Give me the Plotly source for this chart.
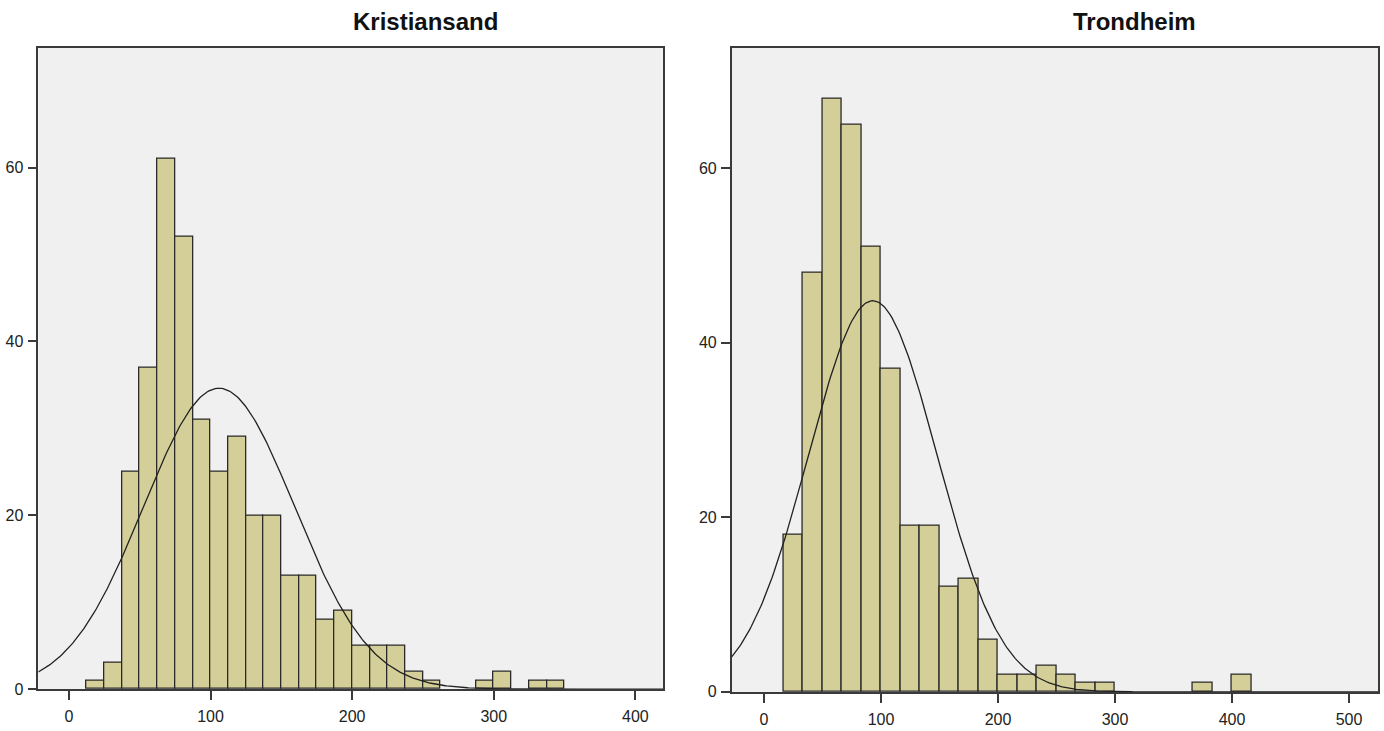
import numpy as np
import plotly.graph_objects as go

# ---- Data ----
titles = ["Kristiansand", "Trondheim"]

# Kristiansand histogram (bin width 12.5, first bin starts at 12.5)
k_bin_start = 12.5
k_bin_width = 12.5
k_counts = [1, 3, 25, 37, 61, 52, 31, 25, 29, 20, 20, 13, 13, 8, 9, 5, 5, 5, 2, 1,
            0, 0, 1, 2, 0, 1, 1]
k_mean = 106.0
k_sd = 53.3

# Trondheim histogram (bin width 16.67, first bin starts at 16.67)
t_bin_start = 50.0 / 3
t_bin_width = 50.0 / 3
t_counts = [18, 48, 68, 65, 51, 37, 19, 19, 12, 13, 6, 2, 2, 3, 2, 1, 1,
            0, 0, 0, 0, 1, 0, 2]
t_mean = 93.0
t_sd = 54.9

k_xticks = [0, 100, 200, 300, 400]
t_xticks = [0, 100, 200, 300, 400, 500]
yticks = [0, 20, 40, 60]

k_xrange = [-21.6, 419.5]
t_xrange = [-27.6, 524.8]
yrange = [0, 73.8]

# ---- Styling ----
BAR_FILL = "#D4CF98"
BAR_LINE = "#2a2a2a"
PLOT_BG = "#F0F0F0"
FRAME = "#3a3a3a"
FONT = "Liberation Sans, Arial, sans-serif"

fig = go.Figure()


def add_panel(counts, start, width, mean, sd, xrange, xaxis, yaxis):
    counts = np.array(counts, dtype=float)
    centers = start + width * (np.arange(len(counts)) + 0.5)
    mask = counts > 0
    fig.add_trace(go.Bar(
        x=centers[mask], y=counts[mask], width=width,
        marker=dict(color=BAR_FILL, line=dict(color=BAR_LINE, width=1.3)),
        xaxis=xaxis, yaxis=yaxis, showlegend=False, hoverinfo="x+y",
    ))
    n = counts.sum()
    xs = np.linspace(xrange[0], xrange[1], 400)
    ys = n * width / (sd * np.sqrt(2 * np.pi)) * np.exp(-0.5 * ((xs - mean) / sd) ** 2)
    fig.add_trace(go.Scatter(
        x=xs, y=ys, mode="lines", line=dict(color="#222222", width=1.3),
        xaxis=xaxis, yaxis=yaxis, showlegend=False, hoverinfo="skip",
    ))


add_panel(k_counts, k_bin_start, k_bin_width, k_mean, k_sd, k_xrange, "x", "y")
add_panel(t_counts, t_bin_start, t_bin_width, t_mean, t_sd, t_xrange, "x2", "y2")

W, H = 1384, 731

axis_common = dict(
    showgrid=False, zeroline=False, showline=True, mirror=True,
    linecolor=FRAME, linewidth=1.6, ticks="outside", ticklen=9,
    tickwidth=1.6, tickcolor=FRAME,
    tickfont=dict(family=FONT, size=16, color="#222222"),
)

fig.update_layout(
    width=W, height=H,
    margin=dict(l=0, r=0, t=0, b=0),
    paper_bgcolor="white", plot_bgcolor=PLOT_BG,
    bargap=0,
    xaxis=dict(domain=[38.3 / W, 663 / W], range=k_xrange, tickvals=k_xticks,
               anchor="y", ticklabelstandoff=3, **axis_common),
    yaxis=dict(domain=[1 - 697.7 / H, 1 - 48.3 / H], range=yrange, tickvals=yticks,
               anchor="x", ticklabelstandoff=1, **axis_common),
    xaxis2=dict(domain=[731.7 / W, 1378 / W], range=t_xrange, tickvals=t_xticks,
                anchor="y2", ticklabelstandoff=3, **axis_common),
    yaxis2=dict(domain=[1 - 700.5 / H, 1 - 48.3 / H], range=yrange, tickvals=yticks,
                anchor="x2", ticklabelstandoff=1, **axis_common),
    annotations=[
        dict(text="<b>%s</b>" % titles[0], x=425 / W, y=1 - 22 / H, xref="paper", yref="paper",
             xanchor="center", yanchor="middle", showarrow=False,
             font=dict(family=FONT, size=24, color="#111111")),
        dict(text="<b>%s</b>" % titles[1], x=1134 / W, y=1 - 22 / H, xref="paper", yref="paper",
             xanchor="center", yanchor="middle", showarrow=False,
             font=dict(family=FONT, size=24, color="#111111")),
    ],
)

fig.write_html("out.html")
